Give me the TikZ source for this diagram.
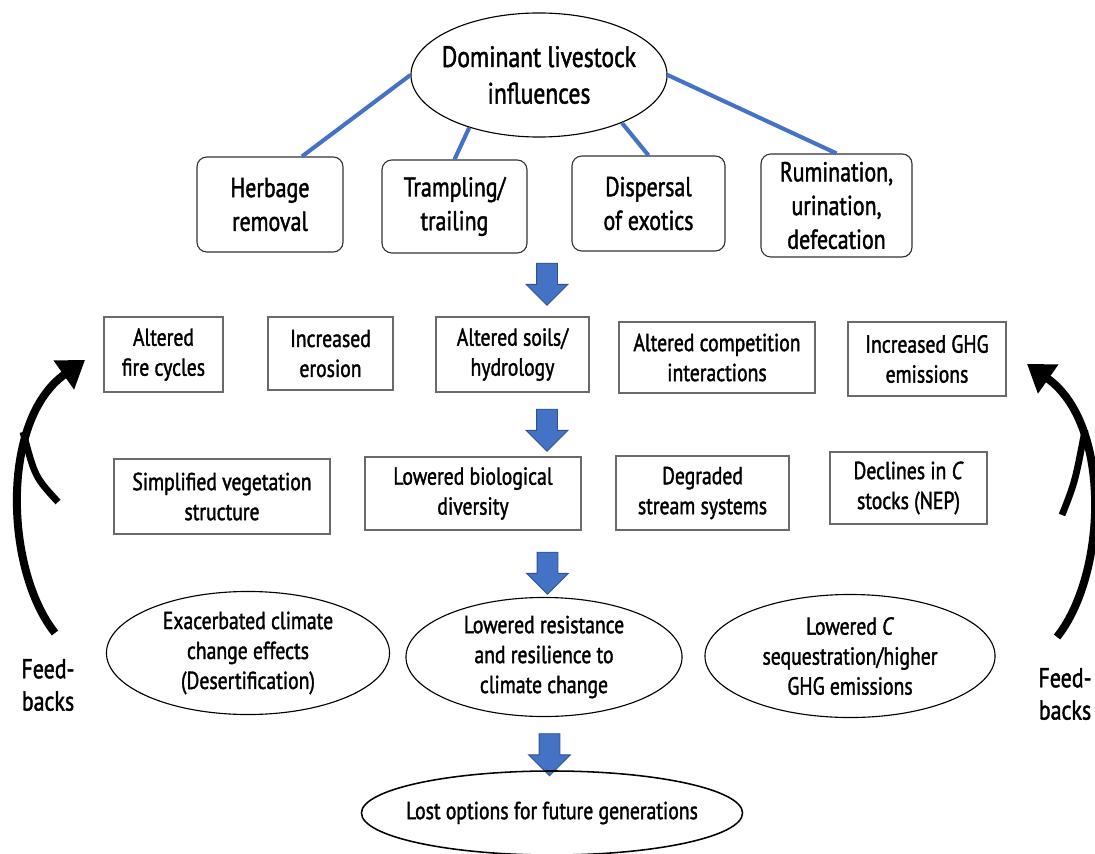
\documentclass[tikz,border=0pt]{standalone}
\usepackage{fontspec}
\setmainfont{PT Sans}[FakeStretch=0.8, FakeBold=1.5]
\usetikzlibrary{shapes,arrows.meta,positioning,calc}
\definecolor{linkblue}{HTML}{4472C4}
\definecolor{arrowedge}{HTML}{2F528F}
\definecolor{boxgray}{HTML}{6A6A6A}
\tikzset{
     wh/.style 2 args = {minimum width=#1, minimum height=#2},
     topbox/.style = {draw=black!80, rounded corners=7pt, line width=0.8pt, align=center, inner sep=0pt, font=\fontsize{19.5}{24}\selectfont},
     effbox/.style = {draw=boxgray, line width=0.8pt, align=center, inner sep=0pt, font=\fontsize{17.5}{21.3}\selectfont},
     ovalnode/.style = {draw, ellipse, line width=0.8pt, align=center, inner sep=0pt, font=\fontsize{17.5}{21.3}\selectfont},
     bluelink/.style = {linkblue, line width=2.9pt},
     downarrow/.style = {single arrow, rotate=-90, fill=linkblue, draw=arrowedge, line width=0.6pt,
        minimum height=1.05cm, inner sep=0.25cm, single arrow head extend=0.26cm, single arrow head indent=0pt},
     feedback/.style = {line width=0.2cm, -{Triangle[length=0.65cm,width=0.85cm]}},
     feedlabel/.style = {align=center, font=\fontsize{19.5}{23}\selectfont},
    }

\begin{document}
\begin{tikzpicture}[x=0.025cm, y=-0.025cm]
      \useasboundingbox (0,0) rectangle (1095,853);

      \node [ovalnode, wh={6.4cm}{3.1cm}, inner xsep=-0.2cm, font=\fontsize{21}{26}\selectfont] (top) at (539,75) {Dominant livestock\\influences};

      \node [topbox, wh={3.65cm}{2.375cm}] (herbage)  at (270,204.5)   {Herbage\\removal};
      \node [topbox, wh={3.625cm}{2.325cm}] (trample) at (454.5,206.5) {Trampling/\\trailing};
      \node [topbox, wh={3.825cm}{2.375cm}] (exotic)  at (648.5,203.5) {Dispersal\\of exotics};
      \node [topbox, wh={3.775cm}{2.575cm}] (rumen)   at (836.5,205.5) {Rumination,\\urination,\\defecation};

      \draw [bluelink] (top.west) -- ([xshift=0.8cm]herbage.north);
      \draw [bluelink] (top.217) -- (trample.north);
      \draw [bluelink] (top.330) -- (exotic.north);
      \draw [bluelink] (top.east) -- (rumen.north);

      \node [downarrow] (arr1) at (547,279) {};

      \node [effbox, wh={2.975cm}{1.875cm}] (fire)    at (163.5,354.5) {Altered\\fire cycles};
      \node [effbox, wh={3.125cm}{1.825cm}] (erosion) at (330.5,353.5) {Increased\\erosion};
      \node [effbox, wh={3.825cm}{1.875cm}] (soils)   at (512.5,354.5) {Altered soils/\\hydrology};
      \node [effbox, wh={4.9cm}{1.775cm}]   (compet)  at (717,357.5)   {Altered competition\\interactions};
      \node [effbox, wh={3.95cm}{1.85cm}]   (ghg)     at (927,359)     {Increased GHG\\emissions};

      \node [downarrow] (arr2) at (547,425) {};

      \node [effbox, wh={5.4cm}{1.875cm}]   (veg)     at (222,496.5)   {Simplified vegetation\\structure};
      \node [effbox, wh={5.4cm}{1.825cm}]   (biodiv)  at (473,493.5)   {Lowered biological\\diversity};
      \node [effbox, wh={4.325cm}{1.85cm}]  (stream)  at (702.5,493)   {Degraded\\stream systems};
      \node [effbox, wh={3.925cm}{1.8cm}]   (nep)     at (908.5,488)   {Declines in \textit{C}\\stocks (NEP)};

      \node [downarrow] (arr3) at (547.5,568) {};

      \node [ovalnode, wh={7.075cm}{3.075cm}] (desert) at (248,653) {Exacerbated climate\\change effects\\(Desertification)};
      \node [ovalnode, wh={6.9cm}{2.975cm}]   (resist) at (544,657) {Lowered resistance\\and resilience to\\climate change};
      \node [ovalnode, wh={7.25cm}{3.075cm}]  (seq)    at (850,656) {Lowered \textit{C}\\sequestration/higher\\GHG emissions};

      \node [downarrow] (arr4) at (549.5,749.5) {};

      \node [ovalnode, wh={9.525cm}{2.1cm}, inner xsep=-0.4cm, line width=1.1pt] (lost) at (552,813) {Lost options for future generations};

      \coordinate (fbL0) at (55,633);
      \coordinate (fbL1) at (85,360);
      \coordinate (fbR0) at (1057,637);
      \coordinate (fbR1) at (1027,364);
      \draw [feedback] (fbL0) .. controls (5,570) and (0,420) .. (fbL1);
      \draw [line width=0.17cm] (58,502) .. controls (35,477) .. (23,432);
      \draw [feedback] (fbR0) .. controls (1107,574) and (1112,424) .. (fbR1);
      \draw [line width=0.17cm] (1062,515) .. controls (1075,482) .. (1085,430);

      \node [feedlabel] (fbLtext) at (48,685)   {Feed-\\backs};
      \node [feedlabel] (fbRtext) at (1065,694) {Feed-\\backs};
\end{tikzpicture}
\end{document}
